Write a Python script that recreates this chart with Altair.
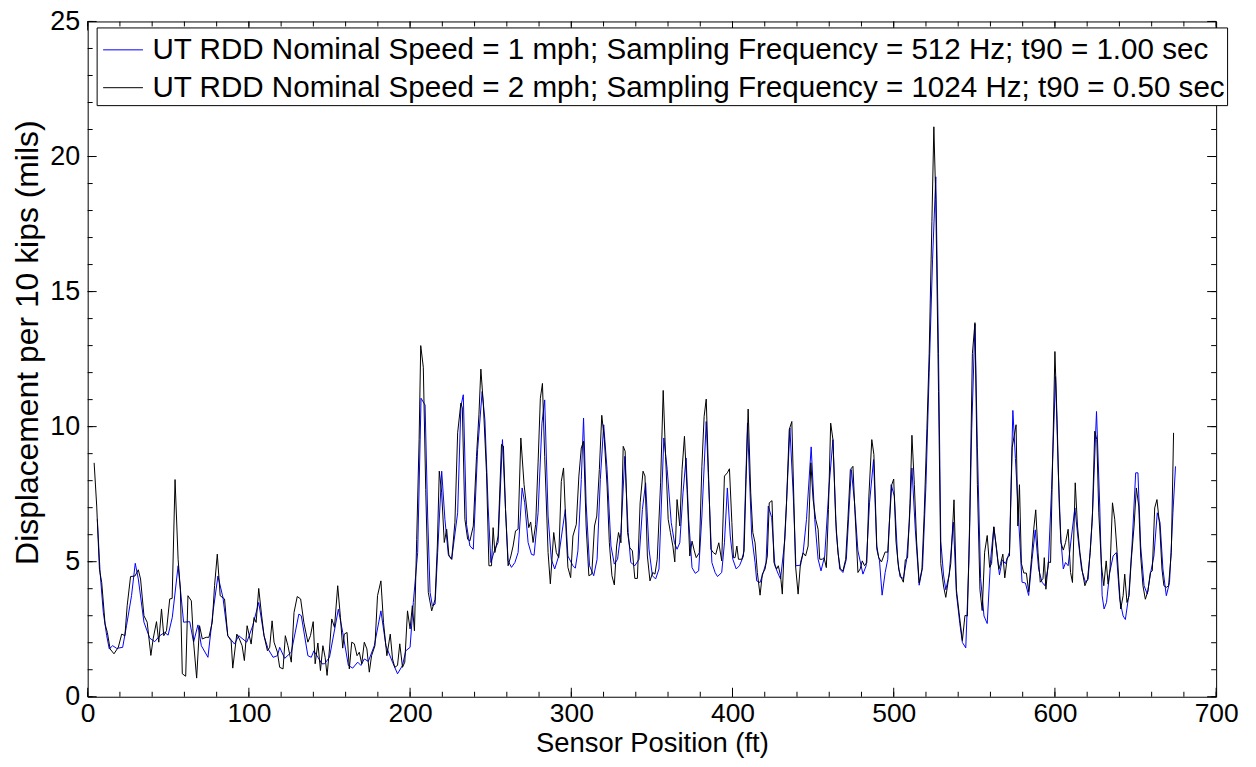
import altair as alt
import pandas as pd

# ---------------- data ----------------
black_ft = [4.0, 5.6, 7.3, 8.7, 10.8, 12.2, 13.9, 16.3, 19.0, 21.1, 23.1, 24.5, 26.6, 29.3, 31.4, 32.8, 34.9, 36.9,
            39.2, 40.6, 42.7, 44.1, 45.8, 47.2, 48.9, 50.9, 52.4, 54.2, 56.1, 57.5, 58.7, 60.8, 62.2, 64.3, 65.7,
            67.6, 69.4, 71.1, 73.5, 75.2, 77.3, 78.7, 80.4, 82.2, 84.9, 86.9, 89.0, 90.0, 92.5, 94.1, 95.8, 97.2,
            98.9, 101.4, 103.2, 104.5, 106.1, 107.8, 109.4, 111.5, 112.9, 114.4, 115.6, 117.7, 119.1, 121.2, 122.6,
            124.2, 126.3, 128.0, 130.0, 132.1, 134.1, 136.6, 138.2, 139.9, 141.1, 142.8, 144.4, 145.9, 147.3, 148.5,
            150.0, 151.4, 153.1, 155.1, 156.8, 158.2, 159.2, 160.9, 162.3, 163.8, 165.4, 167.1, 168.5, 170.0, 171.6,
            173.2, 174.7, 176.1, 178.2, 179.8, 181.9, 183.5, 185.6, 187.7, 189.1, 190.5, 192.2, 193.6, 195.3, 196.7,
            198.4, 200.0, 201.4, 202.7, 204.1, 205.6, 206.6, 208.2, 209.7, 211.3, 213.4, 215.5, 216.9, 218.1, 219.6,
            221.2, 222.7, 224.1, 225.8, 227.8, 229.5, 231.5, 232.4, 234.0, 235.7, 237.1, 239.2, 241.2, 242.7, 243.9,
            245.4, 247.4, 248.9, 250.5, 251.5, 252.6, 254.6, 256.7, 257.9, 259.2, 260.8, 262.5, 263.9, 265.4, 267.0,
            268.7, 270.7, 272.2, 273.6, 274.8, 276.3, 277.9, 279.4, 280.8, 282.1, 283.5, 285.6, 287.0, 289.1, 290.7,
            292.2, 293.8, 295.2, 296.9, 297.9, 299.6, 301.0, 303.1, 304.7, 306.2, 307.6, 309.2, 310.9, 312.7, 314.4,
            315.8, 317.4, 318.9, 320.5, 322.2, 323.6, 325.2, 326.7, 328.1, 329.3, 330.8, 332.2, 333.4, 334.9, 336.3,
            337.9, 339.4, 341.0, 342.7, 344.5, 345.7, 347.2, 348.8, 350.5, 351.9, 353.3, 355.4, 357.0, 358.5, 360.1,
            361.5, 363.0, 364.2, 365.6, 367.3, 368.7, 370.2, 371.8, 373.5, 374.9, 376.3, 377.5, 379.4, 381.0, 382.4,
            383.7, 385.1, 386.6, 388.2, 389.6, 391.5, 393.3, 395.0, 396.8, 398.1, 399.6, 400.6, 401.6, 402.7, 403.7,
            405.8, 407.2, 408.4, 409.7, 411.3, 412.6, 414.0, 415.4, 417.1, 418.5, 420.2, 421.6, 422.8, 424.5, 425.7,
            427.4, 428.4, 429.8, 430.9, 432.1, 433.5, 435.2, 436.8, 438.1, 439.1, 440.7, 442.2, 443.8, 445.3, 446.9,
            448.6, 450.0, 451.6, 453.1, 454.1, 455.8, 456.8, 458.2, 459.5, 460.9, 462.3, 464.0, 465.4, 466.9, 468.5,
            470.2, 471.6, 473.1, 474.7, 475.9, 477.8, 479.2, 480.5, 481.9, 483.3, 484.6, 486.4, 487.7, 489.5, 490.7,
            492.4, 494.7, 496.3, 497.3, 498.8, 500.0, 501.4, 503.1, 504.5, 506.0, 507.2, 508.6, 510.1, 511.3, 512.8,
            514.2, 515.8, 517.5, 518.9, 520.6, 522.0, 523.7, 524.9, 526.1, 527.8, 529.2, 530.9, 532.3, 533.7, 535.4,
            537.4, 538.9, 540.5, 542.6, 544.2, 545.7, 547.1, 548.8, 550.4, 551.9, 553.5, 554.9, 556.4, 558.0, 559.5,
            560.7, 562.1, 563.8, 565.2, 566.3, 567.7, 568.9, 570.4, 571.8, 573.5, 574.7, 575.9, 577.0, 578.0, 579.2,
            580.7, 582.3, 583.7, 585.4, 586.8, 588.1, 589.5, 590.9, 592.6, 593.4, 594.4, 595.9, 597.3, 598.6, 600.0,
            601.4, 602.7, 603.7, 605.2, 606.6, 608.2, 609.7, 610.9, 612.6, 614.0, 615.5, 617.1, 618.6, 620.2, 621.9,
            623.3, 624.7, 626.0, 627.2, 628.9, 630.3, 631.8, 633.0, 634.2, 635.7, 637.1, 638.6, 639.6, 640.8, 642.3,
            643.3, 644.7, 646.0, 647.4, 649.1, 650.5, 652.0, 653.2, 654.6, 656.1, 657.7, 659.2, 660.4, 661.9, 663.3,
            665.0, 666.4, 667.6, 669.1, 670.5, 672.2, 673.6]
black_val = [8.66, 7.06, 4.72, 4.23, 2.69, 2.38, 1.77, 1.59, 1.83, 2.32, 2.26, 3.37, 4.45, 4.47, 4.70, 4.36, 3.00, 2.76,
             1.53, 2.14, 2.78, 2.02, 3.25, 2.26, 2.45, 3.62, 3.64, 8.04, 5.09, 3.98, 0.85, 0.76, 3.74, 3.55, 2.02,
             0.69, 2.63, 2.14, 2.20, 2.20, 2.76, 4.11, 5.28, 3.74, 3.62, 2.26, 2.07, 1.06, 2.32, 2.14, 1.89, 1.34,
             2.63, 1.95, 2.93, 2.75, 4.01, 3.06, 2.26, 1.70, 1.83, 2.81, 2.02, 1.65, 1.09, 1.03, 2.26,
             1.89, 1.28, 3.12, 3.71, 3.62, 2.75, 2.02, 2.26, 2.78, 1.22, 1.99, 0.97, 1.89, 1.46, 0.79,
             1.77, 2.88, 2.57, 4.11, 2.93, 1.80, 2.32, 2.38, 1.03, 2.02, 1.96, 1.52, 1.65, 1.22, 2.02,
             1.77, 0.91, 1.52, 1.89, 3.74, 4.29, 2.75, 1.52, 2.32, 1.40, 1.09, 1.16, 1.96, 1.09, 1.28,
             3.18, 2.51, 3.37, 2.44, 5.83, 9.52, 13.0, 12.2, 7.67, 3.86, 3.18, 3.61, 5.58, 8.35, 7.55,
             5.71, 6.20, 5.21, 5.09, 6.45, 9.77, 10.87, 10.69, 6.57, 5.83, 5.77, 6.32, 8.90, 10.44, 12.13,
             10.87, 8.29, 4.85, 4.85, 6.26, 5.34, 5.95, 9.34, 9.28, 6.93, 4.85, 5.21, 5.58, 6.14, 6.20,
             9.58, 7.85, 7.06, 6.26, 6.47, 5.71, 6.38, 8.66, 11.05, 11.60, 8.90, 5.34, 4.18, 6.08, 5.34,
             5.15, 7.97, 8.47, 5.95, 4.79, 4.41, 5.95, 6.38, 8.17, 9.21, 9.46, 6.32, 4.48, 4.54, 6.32,
             6.69, 8.41, 10.42, 9.52, 7.80, 5.70, 4.48, 4.14, 5.58, 6.08, 5.70, 9.27, 9.09, 6.08, 5.52,
             5.40, 4.38, 4.38, 7.18, 8.35, 8.17, 5.21, 4.29, 4.60, 4.54, 5.09, 7.92, 11.34, 8.90, 6.57,
             6.08, 5.58, 4.99, 7.30, 6.32, 8.41, 9.64, 7.68, 5.21, 5.76, 5.40, 5.15, 5.33, 8.53, 10.38,
             11.02, 8.29, 5.46, 5.33, 5.27, 5.70, 5.03, 8.17, 8.29, 8.44, 6.45, 5.15, 5.15, 5.58, 5.09,
             5.09, 5.40, 8.04, 10.65, 7.55, 6.08, 5.70, 4.60, 3.76, 4.54, 4.73, 5.21, 7.18, 7.26, 4.97,
             4.73, 4.85, 4.48, 3.80, 5.58, 7.18, 9.89, 10.19, 7.18, 4.85, 3.80, 4.97, 5.33, 5.21, 5.58,
             8.66, 7.30, 6.57, 6.20, 5.09, 5.09, 5.15, 4.78, 6.93, 10.13, 9.52, 6.57, 5.33, 4.73, 4.66,
             5.09, 6.57, 8.41, 8.53, 6.93, 4.60, 4.73, 5.03, 4.85, 4.97, 7.43, 9.52, 8.97, 5.58, 5.15,
             4.99, 5.36, 5.35, 6.46, 7.85, 8.06, 5.76, 4.72, 4.44, 4.24, 5.07, 5.14, 7.15, 9.68, 7.85,
             5.76, 4.21, 4.72, 6.74, 9.93, 12.70, 17.60, 21.10, 18.40, 11.30, 4.93, 4.10, 3.68, 4.24, 4.93,
             7.29, 3.96, 3.13, 2.08, 3.01, 2.99, 6.46, 12.70, 13.85, 7.85, 3.96, 3.19, 5.35, 5.97, 4.79,
             4.93, 6.29, 5.49, 4.72, 4.93, 5.28, 4.40, 5.14, 5.21, 9.24, 9.65, 10.07, 6.32, 7.85, 4.93,
             4.58, 4.58, 3.89, 5.07, 6.18, 6.92, 5.35, 4.24, 4.38, 5.15, 3.98, 4.99, 4.97, 8.78, 12.78,
             10.13, 7.06, 5.71, 5.43, 5.71, 6.20, 4.60, 4.23, 7.92, 6.32, 5.34, 4.60, 4.11, 4.35, 5.34,
             6.81, 9.83, 9.52, 6.81, 4.85, 4.11, 5.03, 4.17, 4.73, 7.18, 6.57, 5.34, 4.35, 3.25, 3.74,
             4.54, 3.49, 3.74, 5.09, 6.32, 7.73, 7.06, 5.21, 4.11, 3.61, 3.92, 4.60, 4.66, 6.99, 7.30,
             6.32, 4.73, 4.11, 4.05, 4.11, 5.34, 9.77]

blue_ft = [6.0, 7.7, 9.7, 11.8, 13.4, 15.5, 18.0, 21.7, 24.1, 27.2, 29.5, 31.4, 34.9, 38.5, 41.6, 44.7, 47.8, 49.9,
           52.5, 56.1, 59.5, 63.3, 65.7, 68.4, 70.5, 74.6, 77.7, 80.8, 83.9, 86.9, 91.1, 93.7, 98.7, 102.4, 106.1,
           109.4, 111.9, 115.0, 117.7, 119.1, 122.2, 126.3, 131.0, 132.5, 136.6, 138.7, 140.3, 142.8, 145.3, 146.9,
           150.0, 155.5, 158.2, 161.7, 164.4, 167.5, 169.5, 171.6, 174.1, 177.8, 181.9, 185.0, 189.1, 192.2, 195.3,
           197.3, 200.0, 202.0, 204.7, 206.8, 209.3, 210.9, 212.4, 213.8, 215.5, 217.1, 219.6, 221.6, 223.7, 225.8,
           229.5, 231.5, 233.0, 235.0, 237.1, 239.2, 241.9, 244.7, 246.4, 248.4, 250.1, 252.6, 254.6, 257.3, 259.2,
           260.8, 262.9, 265.0, 267.0, 269.5, 271.1, 273.2, 275.3, 276.9, 279.4, 281.8, 283.5, 285.6, 287.6, 289.7,
           292.2, 294.8, 296.3, 297.9, 301.0, 302.5, 304.1, 306.2, 307.6, 309.2, 311.3, 313.9, 316.0, 318.0, 320.1,
           322.2, 324.6, 326.7, 328.7, 330.8, 333.2, 335.3, 336.9, 339.4, 342.0, 344.1, 346.1, 348.2, 350.3, 352.3,
           354.4, 357.4, 359.5, 362.0, 364.0, 365.6, 367.3, 369.3, 371.2, 372.8, 374.9, 376.9, 379.0, 381.0, 383.7,
           385.1, 387.2, 389.2, 390.7, 393.3, 395.0, 396.8, 398.6, 400.2, 402.3, 404.3, 406.8, 409.3, 411.9, 414.0,
           415.0, 417.1, 419.1, 420.8, 422.2, 424.3, 426.3, 428.4, 429.8, 432.5, 435.6, 437.7, 439.3, 442.2, 443.8,
           445.9, 448.8, 451.0, 453.1, 454.9, 457.2, 459.9, 462.3, 464.4, 466.5, 468.5, 470.6, 473.7, 475.7, 477.8,
           480.9, 482.9, 485.0, 487.5, 489.5, 491.2, 492.8, 494.7, 496.3, 498.4, 500.4, 502.5, 503.9, 506.0, 508.0,
           509.7, 511.3, 513.4, 515.8, 517.9, 520.0, 522.0, 524.1, 526.1, 527.8, 529.2, 530.9, 532.3, 534.4, 537.0,
           538.9, 541.0, 542.6, 544.7, 546.7, 548.4, 550.4, 551.9, 553.9, 556.0, 558.0, 560.1, 562.1, 564.2, 565.6,
           567.3, 569.3, 571.8, 573.9, 575.5, 577.6, 579.6, 581.7, 583.7, 585.8, 587.8, 589.9, 592.0, 593.8, 595.9,
           597.9, 600.4, 602.1, 603.7, 605.2, 606.6, 608.2, 610.3, 612.4, 614.4, 616.5, 619.0, 620.6, 623.1, 625.8,
           627.8, 629.3, 630.5, 632.0, 634.0, 636.1, 638.1, 640.2, 642.3, 643.7, 645.8, 647.8, 650.1, 651.5, 653.2,
           655.3, 657.3, 659.4, 661.4, 663.5, 665.2, 667.0, 669.1, 671.1, 673.2, 674.8]
blue_val = [6.57, 4.60, 3.12, 2.26, 1.77, 1.89, 1.79, 1.83, 2.63, 3.74, 4.94, 4.36, 2.76, 2.17, 2.04, 2.26, 2.38, 2.28,
            2.94, 4.85, 2.76, 2.78, 2.02, 2.66, 1.89, 1.46, 3.12, 4.47, 3.68, 2.26, 1.95, 2.26, 2.02, 2.63, 3.49,
            2.26, 1.77, 1.46, 1.52, 1.83, 1.42, 1.65, 3.06, 3.00, 1.52, 1.46, 1.70, 1.46, 1.22, 1.22,
            1.46, 3.24, 2.38, 1.16, 1.06, 1.28, 1.16, 1.40, 1.31, 1.89, 3.18, 1.89, 1.28, 0.85, 1.16,
            1.70, 1.83, 3.49, 5.34, 11.05, 10.80, 6.69, 3.86, 3.37, 3.43, 5.34, 8.35, 6.57, 5.27, 5.09,
            6.81, 10.75, 11.18, 6.38, 5.58, 5.46, 9.15, 11.30, 10.26, 7.06, 4.97, 5.46, 5.71, 9.52, 6.93,
            5.03, 4.79, 4.97, 5.34, 7.73, 7.18, 5.71, 5.27, 5.24, 6.81, 10.13, 10.99, 6.69, 5.09, 4.73,
            5.21, 6.32, 6.93, 5.21, 4.85, 4.76, 5.40, 8.04, 10.32, 7.18, 4.85, 4.48, 5.09, 8.04, 10.07,
            8.41, 5.58, 4.91, 5.09, 6.08, 8.90, 6.08, 4.97, 4.85, 5.09, 6.93, 7.92, 5.46, 4.48, 4.36,
            4.73, 9.58, 8.41, 6.45, 5.70, 5.46, 5.70, 7.55, 8.84, 6.57, 4.78, 4.57, 4.66, 6.69, 10.19,
            8.04, 4.97, 4.60, 4.45, 4.60, 5.70, 7.73, 5.95, 5.09, 4.73, 4.85, 5.21, 10.13, 5.95, 4.97,
            4.29, 4.23, 4.60, 4.97, 7.06, 6.63, 4.85, 4.54, 4.36, 5.83, 9.95, 7.43, 4.85, 4.87, 5.33,
            6.57, 9.25, 6.57, 5.09, 4.66, 5.21, 7.80, 9.52, 6.08, 4.73, 4.60, 5.09, 8.41, 7.18, 5.40,
            4.54, 4.85, 7.18, 8.78, 5.46, 5.03, 3.76, 4.60, 5.09, 7.85, 7.43, 5.07, 4.44, 4.38, 5.07,
            6.46, 8.47, 6.18, 4.13, 4.79, 7.85, 12.00, 16.20, 19.25, 12.70, 5.76, 4.51, 3.96, 4.51, 6.46,
            3.82, 2.71, 2.01, 1.81, 5.07, 9.93, 13.80, 9.24, 4.38, 2.99, 2.71, 5.07, 6.29, 5.21, 4.51,
            5.07, 4.93, 5.35, 10.60, 8.82, 6.46, 4.24, 4.21, 3.75, 5.07, 6.18, 4.72, 4.24, 4.11, 4.85,
            7.67, 11.85, 8.29, 5.83, 4.73, 4.97, 4.85, 5.95, 6.99, 5.83, 4.73, 4.23, 4.35, 6.45, 10.56,
            7.06, 3.74, 3.25, 3.49, 4.60, 5.21, 5.34, 3.61, 2.99, 2.86, 3.74, 5.58, 8.29, 8.29, 5.58,
            4.11, 3.80, 4.60, 5.21, 6.81, 6.45, 4.73, 3.74, 4.23, 6.81, 8.53]

series_names = [
    "UT RDD Nominal Speed = 1 mph; Sampling Frequency = 512 Hz; t90 = 1.00 sec",
    "UT RDD Nominal Speed = 2 mph; Sampling Frequency = 1024 Hz; t90 = 0.50 sec",
]
series_colors = ["#0000ff", "#000000"]

x_labels = [0, 100, 200, 300, 400, 500, 600, 700]
x_minor = list(range(0, 701, 20))
y_labels = [0, 5, 10, 15, 20, 25]
y_minor = list(range(0, 26, 1))

# ---------------- chart ----------------
W, H = 1133, 678
FONT = "Liberation Sans"
MAJ, MIN = 9, 5

df = pd.concat([
    pd.DataFrame({"ft": blue_ft, "val": blue_val, "series": series_names[0]}),
    pd.DataFrame({"ft": black_ft, "val": black_val, "series": series_names[1]}),
], ignore_index=True)

xscale = alt.Scale(domain=[0, 700], nice=False, zero=False)
yscale = alt.Scale(domain=[0, 25], nice=False, zero=False)

xaxis = alt.Axis(values=x_labels, title="Sensor Position (ft)", ticks=False, domain=False, grid=False,
                 labelFont=FONT, labelFontSize=26.5, labelColor="black", labelPadding=4,
                 titleFont=FONT, titleFontSize=27.5, titleFontWeight="normal", titleColor="black",
                 titlePadding=2, labelOverlap=False, labelFlush=False, labelBound=False)
yaxis = alt.Axis(values=y_labels, title="Displacement per 10 kips (mils)", ticks=False, domain=False, grid=False,
                 labelFont=FONT, labelFontSize=27, labelColor="black", labelPadding=8,
                 titleFont=FONT, titleFontSize=32, titleFontWeight="normal", titleColor="black",
                 titleX=-60, titleY=322, titleBaseline="middle", titleAlign="center",
                 labelOverlap=False, labelFlush=False, labelBound=False)

lines = alt.Chart(df).mark_line(strokeWidth=1, interpolate="linear").encode(
    x=alt.X("ft:Q", scale=xscale, axis=xaxis),
    y=alt.Y("val:Q", scale=yscale, axis=yaxis),
    color=alt.Color("series:N",
                    scale=alt.Scale(domain=series_names, range=series_colors),
                    sort=series_names,
                    legend=alt.Legend(orient="none", legendX=9, legendY=6, title=None,
                                      symbolType="stroke", symbolSize=1600, symbolStrokeWidth=1,
                                      symbolOffset=4,
                                      labelFont=FONT, labelFontSize=29.7, labelColor="black",
                                      labelLimit=0, labelOffset=9, padding=2, rowPadding=2,
                                      strokeColor="black", fillColor="white", cornerRadius=0)),
    order=alt.Order("ft:Q"),
)


def xticks(values, length, top):
    d = pd.DataFrame({"t": values})
    y0, y1 = (0, length) if top else (H, H - length)
    return alt.Chart(d).mark_rule(color="black", strokeWidth=1).encode(
        x=alt.X("t:Q", scale=xscale, axis=xaxis),
        y=alt.value(y0), y2=alt.value(y1))


def yticks(values, length, right):
    d = pd.DataFrame({"t": values})
    x0, x1 = (W, W - length) if right else (0, length)
    return alt.Chart(d).mark_rule(color="black", strokeWidth=1).encode(
        y=alt.Y("t:Q", scale=yscale, axis=yaxis),
        x=alt.value(x0), x2=alt.value(x1))


chart = alt.layer(
    lines,
    xticks(x_minor, MIN, False), xticks(x_labels, MAJ, False),
    xticks(x_minor, MIN, True), xticks(x_labels, MAJ, True),
    yticks(y_minor, MIN, False), yticks(y_labels, MAJ, False),
    yticks(y_minor, MIN, True), yticks(y_labels, MAJ, True),
).properties(
    width=W, height=H,
    autosize=alt.AutoSizeParams(type="none"),
    padding={"left": 80, "top": 12, "right": 32, "bottom": 65},
).configure_view(
    stroke="black", strokeWidth=1
).configure_legend(
    strokeWidth=1
)

chart.save("out.html", embed_options={"renderer": "svg", "actions": False})
